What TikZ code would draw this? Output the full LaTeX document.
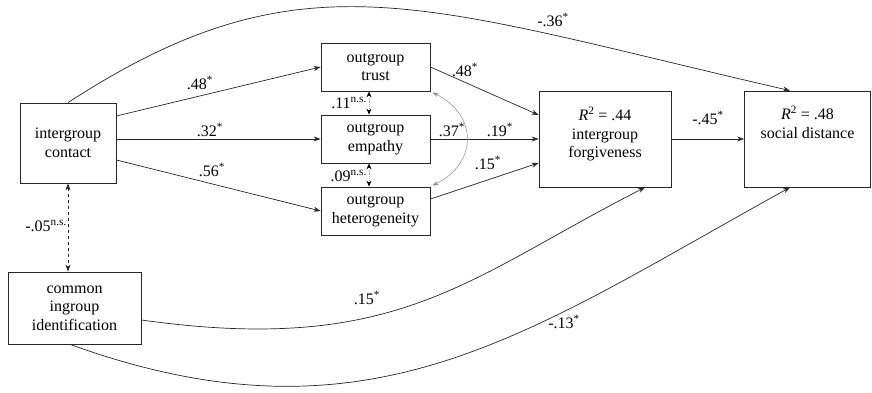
\documentclass[tikz,border=0pt]{standalone}
\usepackage{fontspec}
\setmainfont{Liberation Serif}
\usetikzlibrary{arrows.meta,calc}
\newcommand\starsup{\textsuperscript{*}}
\newcommand\nssup{\textsuperscript{n.s.}}
\begin{document}
\begin{tikzpicture}[x=1pt,y=1pt,
  font=\fontsize{16}{18.5}\selectfont,
  box/.style={draw=black!85, line width=0.8pt, align=center, inner sep=0pt},
  txt/.style={align=center, inner sep=0pt},
  tip/.tip={Stealth[length=7pt,width=5pt]},
  arr/.style={-tip, line width=0.7pt, draw=black!85},
  lab/.style={inner sep=1pt}]
\useasboundingbox (0,0) rectangle (872,393);

% boxes
\node[box, minimum width=96pt, minimum height=80pt] (contact) at (68,250) {intergroup\\contact};
\node[box, minimum width=109pt, minimum height=48pt] (trust) at (375.5,326) {outgroup\\trust};
\node[box, minimum width=109pt, minimum height=48pt] (empathy) at (375.5,254) {outgroup\\empathy};
\node[box, minimum width=109pt, minimum height=48pt] (het) at (375.5,182) {outgroup\\heterogeneity};
\node[box, minimum width=132pt, minimum height=96pt] (forg) at (605,254) {};
\node[txt] (forgtext) at (605,259) {\textit{R}\textsuperscript{2} = .44\\intergroup\\forgiveness};
\node[box, minimum width=126pt, minimum height=96pt] (social) at (807.5,254) {};
\node[txt, anchor=north] (socialtext) at (807.5,287) {\textit{R}\textsuperscript{2} = .48\\social distance};
\node[box, minimum width=133pt, minimum height=72pt] (common) at (74.5,85) {common\\ingroup\\identification};

% straight paths
\draw[arr] ([yshift=27pt]contact.east) -- (trust.west);
\draw[arr] (contact.east |- empathy.west) -- (empathy.west);
\draw[arr] ([yshift=-17pt]contact.east) -- (het.west);
\draw[arr] (trust.east) -- ([yshift=24pt]forg.west);
\draw[arr] (empathy.east) -- (forg.west);
\draw[arr] ([yshift=12pt]het.east) -- ([yshift=-24pt]forg.west);
\draw[arr] (forg.east) -- (social.west);

% curved paths
\draw[arr] (contact.north) .. controls (303,443) and (420,387.5) .. ([xshift=-17.5pt]social.north);
\draw[arr] ([yshift=-12pt]common.east) .. controls (398,37) and (467,115) .. ([xshift=40pt]forg.south);
\draw[arr] ([xshift=-4.5pt]common.south) .. controls (371,-60) and (527,60.5) .. ([xshift=-17.5pt]social.south);

% correlations
\draw[tip-tip, dashed, line width=0.7pt, draw=black!85] (contact.south) -- (contact.south |- common.north);
\draw[{Stealth[length=6pt,width=5pt,black]}-{Stealth[length=6pt,width=5pt,black]}, densely dotted, line width=0.8pt, draw=black!30]
  ([xshift=-6.5pt]trust.south) -- ([xshift=-6.5pt]empathy.north);
\draw[{Stealth[length=6pt,width=5pt,black]}-{Stealth[length=6pt,width=5pt,black]}, densely dotted, line width=0.8pt, draw=black!30]
  ([xshift=-6.5pt]empathy.south) -- ([xshift=-6.5pt]het.north);
\draw[{Stealth[length=6pt,width=4pt]}-{Stealth[length=6pt,width=4pt]}, line width=0.5pt, draw=black!45]
  ([xshift=2pt,yshift=-1pt]trust.south east) .. controls (478,278) and (478,230) .. ([xshift=2pt,yshift=1pt]het.north east);

% labels
\node[lab] (l1) at (200,310) {.48\starsup};
\node[lab] (l2) at (210,263) {.32\starsup};
\node[lab] (l3) at (212,223) {.56\starsup};
\node[lab] (l4) at (465,323) {.48\starsup};
\node[lab] (l5) at (452,263) {.37\starsup};
\node[lab] (l6) at (500,263) {.19\starsup};
\node[lab] (l7) at (488,230) {.15\starsup};
\node[lab] (l8) at (708,275) {-.45\starsup};
\node[lab] (l9) at (553,373) {-.36\starsup};
\node[lab, anchor=east] (l10) at (368,290) {.11\nssup};
\node[lab, anchor=east] (l11) at (368,217) {.09\nssup};
\node[lab, anchor=east] (l12) at (68,167) {-.05\nssup};
\node[lab] (l13) at (367,95) {.15\starsup};
\node[lab] (l14) at (564,71) {-.13\starsup};
\end{tikzpicture}
\end{document}
